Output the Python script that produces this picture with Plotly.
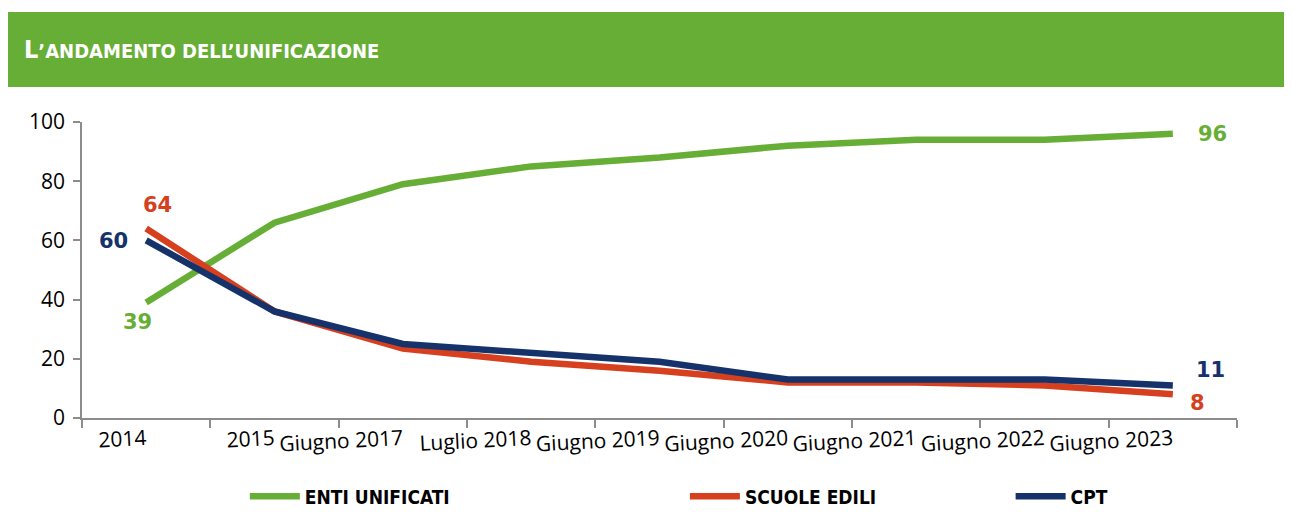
import plotly.graph_objects as go

# categories and series
periods = ['2014', '2015', 'Giugno 2017', 'Luglio 2018', 'Giugno 2019',
           'Giugno 2020', 'Giugno 2021', 'Giugno 2022', 'Giugno 2023']
enti_unificati = [39, 66, 79, 85, 88, 92, 94, 94, 96]
scuole_edili = [64, 36, 23.5, 19, 16, 12, 12, 11, 8]
cpt = [60, 36, 25, 22, 19, 13, 13, 13, 11]

GREEN = '#67ae36'
RED = '#d6401f'
NAVY = '#15336a'
NARROW = 'Liberation Sans Narrow, Arial Narrow, DejaVu Sans Condensed, sans-serif'

fig = go.Figure()
fig.add_scatter(x=periods, y=enti_unificati, mode='lines', name='<b>ENTI UNIFICATI</b>',
                line=dict(color=GREEN, width=6.5), legend='legend')
fig.add_scatter(x=periods, y=scuole_edili, mode='lines', name='<b>SCUOLE EDILI</b>',
                line=dict(color=RED, width=6.5), legend='legend2')
fig.add_scatter(x=periods, y=cpt, mode='lines', name='<b>CPT</b>',
                line=dict(color=NAVY, width=6.5), legend='legend3')

# value labels on the first and last points (offsets in px)
label_font = dict(family='DejaVu Sans, sans-serif', size=21)
labels = [
    (0, enti_unificati, GREEN, -9, -19),
    (0, scuole_edili, RED, 11, 24),
    (0, cpt, NAVY, -33, -1),
    (len(periods) - 1, enti_unificati, GREEN, 40, 0),
    (len(periods) - 1, cpt, NAVY, 38, 15),
    (len(periods) - 1, scuole_edili, RED, 25, -9),
]
for idx, series, color, dx, dy in labels:
    fig.add_annotation(x=idx, y=series[idx], text='<b>%g</b>' % series[idx],
                       showarrow=False, xshift=dx, yshift=dy,
                       font=dict(label_font, color=color))

# green title banner
fig.add_shape(type='rect', xref='paper', yref='paper', x0=-0.0641, x1=1.0416,
              y0=1.118, y1=1.372, fillcolor=GREEN, line=dict(width=0), layer='below')
fig.add_annotation(xref='paper', yref='paper', x=-0.052, y=1.245, xanchor='left',
                   yanchor='middle', showarrow=False,
                   text='<b><span style="font-size:25px">L</span>’ANDAMENTO DELL’UNIFICAZIONE</b>',
                   font=dict(family=NARROW, size=20, color='white'))

legend_style = dict(orientation='h', yanchor='middle', y=-0.265, xanchor='left',
                    itemwidth=50,
                    font=dict(family=NARROW, size=19, color='black'),
                    bgcolor='rgba(0,0,0,0)')

axis_font = dict(family='Open Sans, Noto Sans, sans-serif', size=21, color='black')

# the page adds an 8px body margin, so the figure is 16px smaller than the window
fig.update_layout(
    width=1276, height=499,
    margin=dict(l=74, r=47, t=114, b=89, autoexpand=False),
    paper_bgcolor='white', plot_bgcolor='white',
    showlegend=True,
    legend=dict(legend_style, x=0.141),
    legend2=dict(legend_style, x=0.522),
    legend3=dict(legend_style, x=0.804),
    xaxis=dict(type='category', range=[-0.5, 8.5], showgrid=False,
               showline=True, linecolor='#8c8c8c', linewidth=1.5,
               ticks='outside', tickson='boundaries', ticklen=8, tickcolor='#8c8c8c',
               tickwidth=1.5, tickangle=-3, ticklabelposition='outside left',
               tickfont=axis_font),
    yaxis=dict(range=[0, 100], dtick=20, showgrid=False, zeroline=False,
               showline=True, linecolor='#8c8c8c', linewidth=1.5,
               ticks='outside', ticklen=7, tickcolor='#8c8c8c', tickwidth=1.5,
               ticklabelstandoff=4, tickfont=axis_font),
)

fig.write_html('out.html')
